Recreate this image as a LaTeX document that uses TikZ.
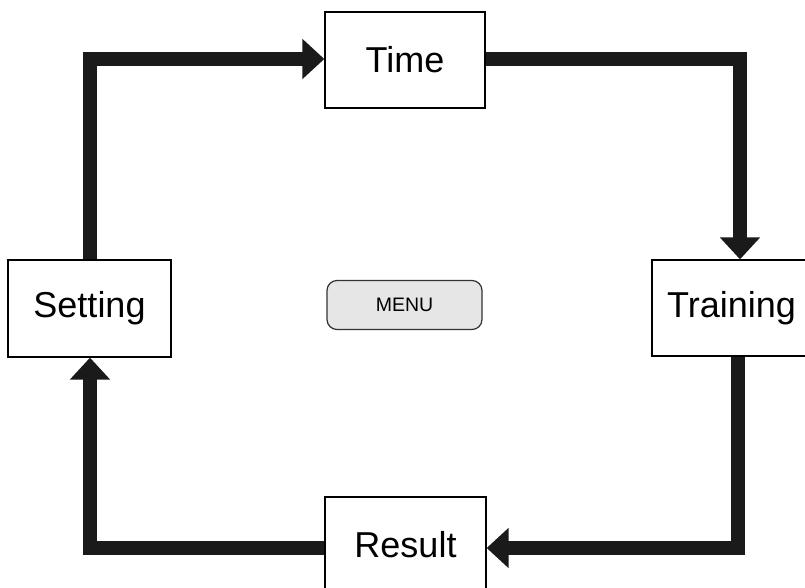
\documentclass[tikz,border=0pt]{standalone}
\usepackage{fontspec}
\setmainfont{Liberation Sans}
\usetikzlibrary{arrows.meta}
\definecolor{linegray}{HTML}{1A1A1A}
\definecolor{menufill}{HTML}{E6E6E6}
\tikzset{
  stepbox/.style={draw=black, line width=1.3pt, fill=white, inner sep=0pt,
    minimum width=160pt, minimum height=96pt,
    font=\fontsize{36}{42}\selectfont},
  flow/.style={draw=linegray, line width=13.5pt, line join=miter, line cap=butt,
    -{Triangle[width=39pt,length=22pt]}},
  menubox/.style={draw=black!80, line width=1.2pt, fill=menufill, rounded corners=10pt,
    minimum width=155pt, minimum height=49pt, inner sep=0pt,
    font=\fontsize{19.5}{23}\selectfont}
}
\begin{document}
\begin{tikzpicture}[x=1pt,y=-1pt]
\useasboundingbox (0,0) rectangle (805,588);
\clip (0,0) rectangle (805,588);
\fill[white] (0,0) rectangle (805,588);
\node[stepbox] (time) at (405,60) {Time};
\node[stepbox, minimum width=163pt, minimum height=97pt] (set) at (89.5,308.5) {Setting};
\node[stepbox, minimum width=159pt] (train) at (731.5,308) {Training};
\node[stepbox, minimum width=161pt] (res) at (405.5,545) {Result};
\node[menubox] (menu) at (404.5,305) {MENU};
\coordinate (c1) at (90,59);
\coordinate (c2) at (740,59);
\coordinate (c3) at (738,548);
\coordinate (c4) at (90,548);
\draw[flow] (set.north -| c1) |- (time.west |- c1);
\draw[flow] (time.east |- c2) -| (train.north -| c2);
\draw[flow] (train.south -| c3) |- (res.east |- c3);
\draw[flow] (res.west |- c4) -| (set.south -| c4);
\end{tikzpicture}
\end{document}
